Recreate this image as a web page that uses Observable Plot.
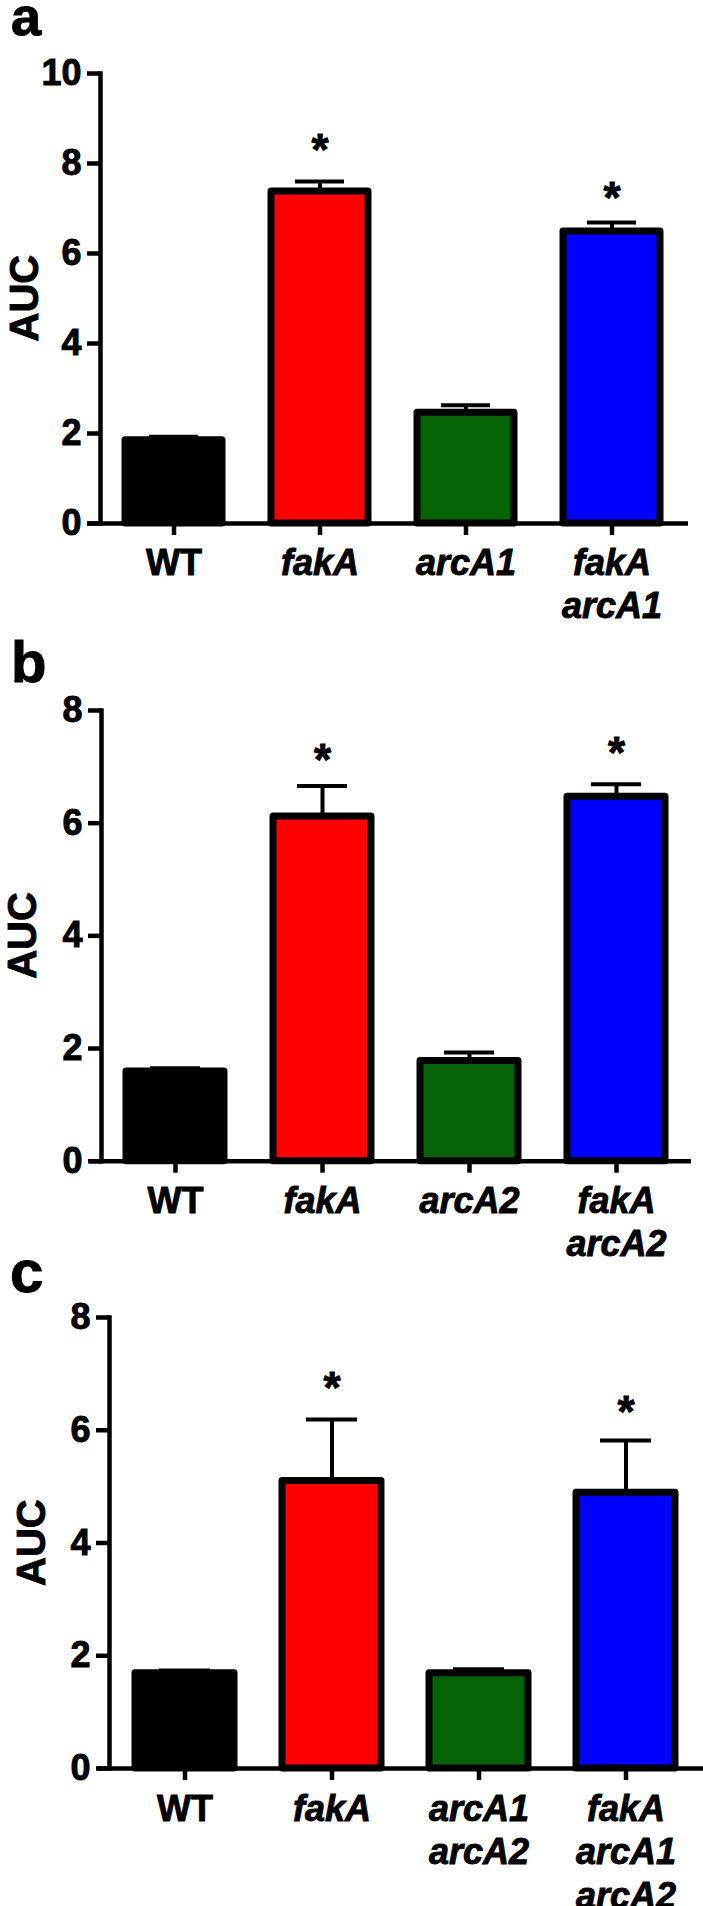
<!DOCTYPE html>
<html><head><meta charset="utf-8">
<script src="https://cdn.jsdelivr.net/npm/d3@7"></script>
<script src="https://cdn.jsdelivr.net/npm/@observablehq/plot@0.6"></script>
<style>
body{margin:0;background:#fff;}
#root{position:relative;width:703px;height:1906px;overflow:hidden;background:#fff;font-family:'Liberation Sans',Arial,sans-serif;}
.panel{position:absolute;left:0;}
.panel svg text{stroke:#000;stroke-width:0.9px;paint-order:stroke;}
.letter{position:absolute;font-weight:bold;line-height:0.6;color:#000;-webkit-text-stroke:1px #000;}
svg{overflow:visible}
</style></head><body><div id="root"></div>
<script>
// ---- data ----
const catsA = ["WT", "fakA", "arcA1", "fakA\narcA1"];
const aucA = [1.85, 7.38, 2.46, 6.49];
const semA = [0.08, 0.22, 0.17, 0.20];
const starA = [null, 8.52, null, 7.46];
const ticksA = [0, 2, 4, 6, 8, 10];

const catsB = ["WT", "fakA", "arcA2", "fakA\narcA2"];
const aucB = [1.59, 6.12, 1.78, 6.47];
const semB = [0.06, 0.54, 0.15, 0.22];
const starB = [null, 7.30, null, 7.42];
const ticksB = [0, 2, 4, 6, 8];

const catsC = ["WT", "fakA", "arcA1\narcA2", "fakA\narcA1\narcA2"];
const aucC = [1.69, 5.10, 1.69, 4.89];
const semC = [0.05, 1.09, 0.07, 0.93];
const starC = [null, 6.93, null, 6.50];
const ticksC = [0, 2, 4, 6, 8];

const barColors = ["#000000", "#ff0000", "#056305", "#0000ff"];
const yLabel = "AUC";
const panelLetters = ["a", "b", "c"];

const FONT = "'Liberation Sans', Arial, sans-serif";

function panel(cats, auc, sem, stars, yTicks, yMax, cfg) {
  const rows = cats.map((c, i) => ({cat: c, v: auc[i], e: sem[i], hi: auc[i] + sem[i], color: barColors[i], star: stars[i]}));
  const starRows = rows.filter(d => d.star != null);
  const common = {fontFamily: FONT, fontWeight: "bold", fontSize: 36, fill: "black", stroke: "black", strokeWidth: 4.5};
  return Plot.plot({
    width: 703,
    height: cfg.height,
    marginTop: cfg.mt, marginBottom: cfg.mb, marginLeft: cfg.ml, marginRight: cfg.mr,
    style: {background: "transparent", overflow: "visible", fontFamily: FONT},
    x: {domain: cats, paddingInner: cfg.pi, paddingOuter: cfg.po},
    y: {domain: [0, yMax]},
    color: {type: "identity"},
    marks: [
      Plot.ruleX(rows, {x: "cat", y1: "v", y2: "hi", stroke: "black", strokeWidth: 4}),
      Plot.tickY(rows, {x: "cat", y: "hi", stroke: "black", strokeWidth: 4, insetLeft: 24, insetRight: 24}),
      Plot.barY(rows, {x: "cat", y: "v", fill: "color", stroke: "black", strokeWidth: 7, strokeLinejoin: "round"}),
      Plot.text(starRows, {x: "cat", y: "star", text: () => "*", fontFamily: FONT, fontWeight: "bold", fontSize: 44, dy: 11}),
      Plot.frame({anchor: "left", stroke: "black", strokeWidth: 4.5}),
      Plot.ruleY([0], {stroke: "black", strokeWidth: 4.5, insetLeft: cfg.il, insetRight: cfg.ir}),
      Plot.axisY({...common, ticks: yTicks, tickSize: 13, tickPadding: 6, label: null}),
      Plot.text([yLabel], {text: d => d, frameAnchor: "left", rotate: -90, textAnchor: "start", lineAnchor: "top", dx: cfg.ldx, dy: 43, fontFamily: FONT, fontWeight: "bold", fontSize: 40, fill: "black"}),
      Plot.axisX({...common, ticks: [cats[0]], tickSize: 12, tickPadding: cfg.lp, label: null, lineHeight: 1.2}),
      Plot.axisX({...common, ticks: cats.slice(1), tickSize: 12, tickPadding: cfg.lp, label: null, fontStyle: "italic", lineHeight: 1.2})
    ]
  });
}

const root = document.getElementById("root");
const cfgs = [
  {top: 0, height: 628, mt: 73, mb: 105, ml: 100, mr: 17, pi: 0.335, po: 0.165, il: -13, ir: -2, ldx: -91, lp: 9},
  {top: 628, height: 634, mt: 82, mb: 101.3, ml: 101, mr: 13, pi: 0.33, po: 0.168, il: -12, ir: -1, ldx: -94, lp: 9},
  {top: 1262, height: 644, mt: 55, mb: 138, ml: 109, mr: 2.6, pi: 0.328, po: 0.162, il: -12, ir: -3, ldx: -93, lp: 10}
];
const charts = [
  panel(catsA, aucA, semA, starA, ticksA, 10, cfgs[0]),
  panel(catsB, aucB, semB, starB, ticksB, 8, cfgs[1]),
  panel(catsC, aucC, semC, starC, ticksC, 8, cfgs[2])
];
charts.forEach((c, i) => {
  const d = document.createElement("div");
  d.className = "panel";
  d.style.top = cfgs[i].top + "px";
  d.appendChild(c);
  root.appendChild(d);
});
const letterPos = [{left: 11, top: 0.2, size: 54}, {left: 11, top: 644.5, size: 58}, {left: 10, top: 1254.2, size: 60}];
panelLetters.forEach((t, i) => {
  const d = document.createElement("div");
  d.className = "letter";
  d.textContent = t;
  d.style.left = letterPos[i].left + "px";
  d.style.top = letterPos[i].top + "px";
  d.style.fontSize = letterPos[i].size + "px";
  root.appendChild(d);
});
</script></body></html>
